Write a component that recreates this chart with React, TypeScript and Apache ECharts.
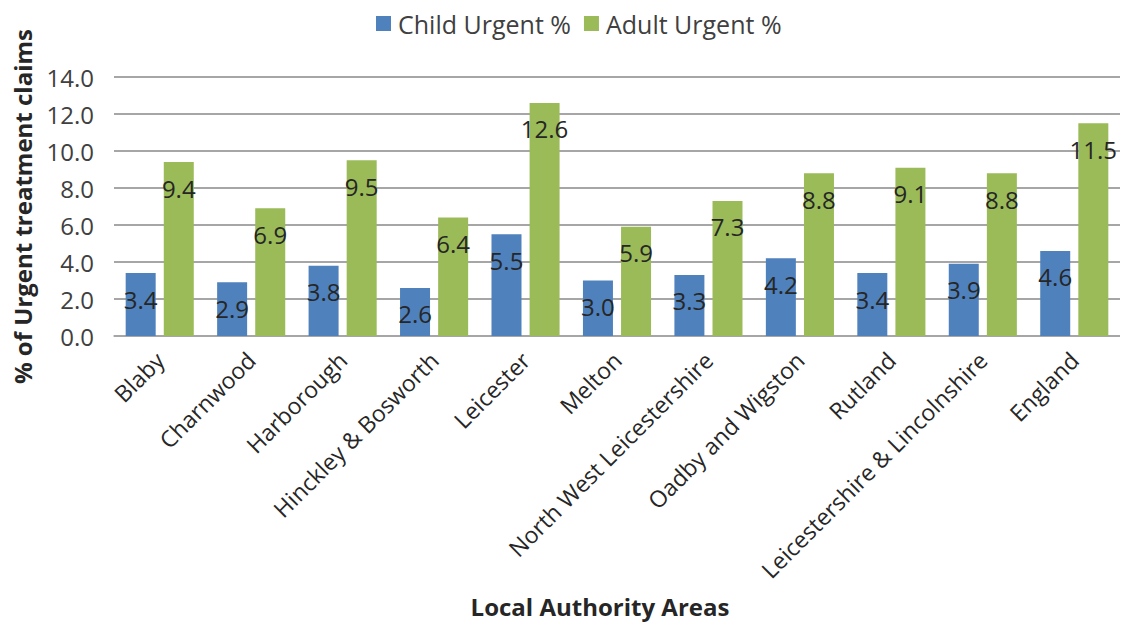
import React, { useEffect, useRef } from "react";
import * as echarts from "echarts";

const categories = [
  "Blaby",
  "Charnwood",
  "Harborough",
  "Hinckley & Bosworth",
  "Leicester",
  "Melton",
  "North West Leicestershire",
  "Oadby and Wigston",
  "Rutland",
  "Leicestershire & Lincolnshire",
  "England",
];
const childUrgent = [3.4, 2.9, 3.8, 2.6, 5.5, 3.0, 3.3, 4.2, 3.4, 3.9, 4.6];
const adultUrgent = [9.4, 6.9, 9.5, 6.4, 12.6, 5.9, 7.3, 8.8, 9.1, 8.8, 11.5];
const seriesNames = ["Child Urgent %", "Adult Urgent %"];
const yAxisTitle = "% of Urgent treatment claims";
const xAxisTitle = "Local Authority Areas";

const FONT = "'Open Sans', 'Noto Sans', sans-serif";

export default function App() {
  const ref = useRef<HTMLDivElement>(null);
  useEffect(() => {
    if (!ref.current) return;
    const chart = echarts.init(ref.current, undefined, { renderer: "svg" });
    const label = {
      show: true,
      position: "insideTop",
      distance: 14,
      fontSize: 24,
      color: "#262626",
      fontFamily: FONT,
      formatter: (p: any) => Number(p.value).toFixed(1),
    };
    chart.setOption({
      animation: false,
      textStyle: { fontFamily: FONT },
      legend: {
        top: 6,
        left: 371,
        itemWidth: 15,
        itemHeight: 15,
        itemGap: 13,
        icon: "rect",
        textStyle: { fontSize: 25, color: "#404040", fontFamily: FONT, padding: [0, 0, 0, 2] },
        data: seriesNames,
      },
      grid: { left: 114, right: 3, top: 77, bottom: 288, containLabel: false },
      xAxis: {
        type: "category",
        data: categories,
        axisLine: { show: true, lineStyle: { color: "#a6a6a6", type: "dashed", width: 1.5 } },
        axisTick: { show: false },
        axisLabel: {
          rotate: 45,
          interval: 0,
          fontSize: 23,
          color: "#262626",
          margin: 20,
          fontFamily: FONT,
        },
        name: xAxisTitle,
        nameLocation: "middle",
        nameGap: 258,
        nameTextStyle: {
          fontSize: 24,
          fontWeight: "bold",
          color: "#262626",
          fontFamily: FONT,
          padding: [0, 34, 0, 0],
        },
      },
      yAxis: {
        type: "value",
        min: 0,
        max: 14,
        interval: 2,
        axisLine: { show: false },
        axisTick: { show: false },
        splitLine: { lineStyle: { color: "#a6a6a6", width: 2 } },
        axisLabel: {
          fontSize: 24,
          color: "#404040",
          margin: 20,
          fontFamily: FONT,
          formatter: (v: number) => v.toFixed(1),
        },
        name: yAxisTitle,
        nameLocation: "middle",
        nameGap: 80,
        nameRotate: 90,
        nameTextStyle: { fontSize: 24, fontWeight: "bold", color: "#262626", fontFamily: FONT },
      },
      series: [
        {
          name: seriesNames[0],
          type: "bar",
          data: childUrgent,
          barWidth: 30,
          barGap: "27%",
          itemStyle: { color: "#4F81BD" },
          label,
        },
        {
          name: seriesNames[1],
          type: "bar",
          data: adultUrgent,
          barWidth: 30,
          barGap: "27%",
          itemStyle: { color: "#9BBB59" },
          label,
        },
      ],
    });
    return () => chart.dispose();
  }, []);
  return <div ref={ref} style={{ width: 1123, height: 624, position: "absolute", left: 0, top: 0, background: "#fff" }} />;
}
